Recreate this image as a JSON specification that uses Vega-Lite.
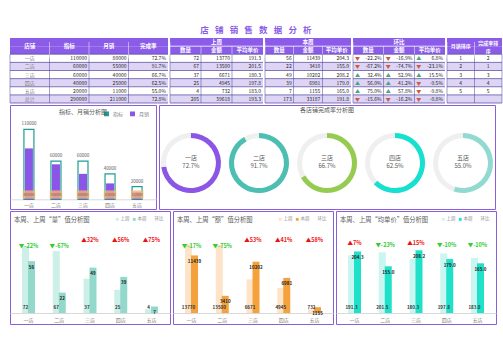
{
"$schema":"https://vega.github.io/schema/vega-lite/v6.json",
"background":"#ffffff",
"padding":{"left":9,"top":25,"right":0,"bottom":0},
"title":{"text":"店\u2002\u00a0铺\u2002\u00a0销\u2002\u00a0售\u2002\u00a0数\u2002\u00a0据\u2002\u00a0分\u2002\u00a0析","fontSize":8.5,"fontWeight":"bold","color":"#8b5ce8","anchor":"middle","frame":"bounds","offset":4},
"config":{
 "font":"Noto Sans CJK SC",
 "view":{"stroke":"#8a60d6","strokeWidth":1},
 "title":{"font":"Noto Sans CJK SC","fontWeight":"normal","color":"#595959","frame":"group","baseline":"bottom"},
 "axis":{"labelFont":"Noto Sans CJK SC","grid":false,"tickSize":0,"ticks":false},
 "legend":{"labelFont":"Noto Sans CJK SC"},
 "text":{"font":"Noto Sans CJK SC"}
},
"datasets":{
 "rows":[{"row":"h1"},{"row":"h2"},{"row":"r1"},{"row":"r2"},{"row":"r3"},{"row":"r4"},{"row":"r5"},{"row":"r6"}],
 "tbl":[
  {"row":"r1","店铺":"一店","指标":"110000","月销":"80000","完成率":"72.7%","上周数量":"72","上周金额":"13770","上周平均单价":"191.3","本周数量":"56","本周金额":"11439","本周平均单价":"204.3","环比数量":"-22.2%","环比金额":"-16.9%","环比平均单价":"6.8%","月销排序":"1","完成率排序":"2"},
  {"row":"r2","店铺":"二店","指标":"60000","月销":"55000","完成率":"91.7%","上周数量":"67","上周金额":"13500","上周平均单价":"201.5","本周数量":"22","本周金额":"3410","本周平均单价":"155.0","环比数量":"-67.2%","环比金额":"-74.7%","环比平均单价":"-23.1%","月销排序":"2","完成率排序":"1"},
  {"row":"r3","店铺":"三店","指标":"60000","月销":"40000","完成率":"66.7%","上周数量":"37","上周金额":"6671","上周平均单价":"180.3","本周数量":"49","本周金额":"10202","本周平均单价":"208.2","环比数量":"32.4%","环比金额":"52.9%","环比平均单价":"15.5%","月销排序":"3","完成率排序":"3"},
  {"row":"r4","店铺":"四店","指标":"40000","月销":"25000","完成率":"62.5%","上周数量":"25","上周金额":"4945","上周平均单价":"197.8","本周数量":"39","本周金额":"6981","本周平均单价":"179.0","环比数量":"56.0%","环比金额":"41.2%","环比平均单价":"-9.5%","月销排序":"4","完成率排序":"4"},
  {"row":"r5","店铺":"五店","指标":"20000","月销":"11000","完成率":"55.0%","上周数量":"4","上周金额":"732","上周平均单价":"183.0","本周数量":"7","本周金额":"1155","本周平均单价":"165.0","环比数量":"75.0%","环比金额":"57.8%","环比平均单价":"-9.8%","月销排序":"5","完成率排序":"5"},
  {"row":"r6","店铺":"总计","指标":"290000","月销":"211000","完成率":"72.8%","上周数量":"205","上周金额":"39618","上周平均单价":"193.3","本周数量":"173","本周金额":"33187","本周平均单价":"191.8","环比数量":"-15.6%","环比金额":"-16.2%","环比平均单价":"-0.8%","月销排序":"","完成率排序":""}
 ],
 "stores":[
  {"store":"一店","target":110000,"sales":80000,"rate":0.727,"rateText":"72.7%"},
  {"store":"二店","target":60000,"sales":55000,"rate":0.917,"rateText":"91.7%"},
  {"store":"三店","target":60000,"sales":40000,"rate":0.667,"rateText":"66.7%"},
  {"store":"四店","target":40000,"sales":25000,"rate":0.625,"rateText":"62.5%"},
  {"store":"五店","target":20000,"sales":11000,"rate":0.55,"rateText":"55.0%"}
 ],
 "weekly":[
  {"store":"一店","week":"上周","qty":72,"amt":13770,"avg":191.3},
  {"store":"二店","week":"上周","qty":67,"amt":13500,"avg":201.5},
  {"store":"三店","week":"上周","qty":37,"amt":6671,"avg":180.3},
  {"store":"四店","week":"上周","qty":25,"amt":4945,"avg":197.8},
  {"store":"五店","week":"上周","qty":4,"amt":732,"avg":183.0},
  {"store":"一店","week":"本周","qty":56,"amt":11439,"avg":204.3},
  {"store":"二店","week":"本周","qty":22,"amt":3410,"avg":155.0},
  {"store":"三店","week":"本周","qty":49,"amt":10202,"avg":208.2},
  {"store":"四店","week":"本周","qty":39,"amt":6981,"avg":179.0},
  {"store":"五店","week":"本周","qty":7,"amt":1155,"avg":165.0}
 ],
 "chg":[
  {"store":"一店","metric":"qty","label":"▼-22%","dir":"down"},
  {"store":"二店","metric":"qty","label":"▼-67%","dir":"down"},
  {"store":"三店","metric":"qty","label":"▲32%","dir":"up"},
  {"store":"四店","metric":"qty","label":"▲56%","dir":"up"},
  {"store":"五店","metric":"qty","label":"▲75%","dir":"up"},
  {"store":"一店","metric":"amt","label":"▼-17%","dir":"down"},
  {"store":"二店","metric":"amt","label":"▼-75%","dir":"down"},
  {"store":"三店","metric":"amt","label":"▲53%","dir":"up"},
  {"store":"四店","metric":"amt","label":"▲41%","dir":"up"},
  {"store":"五店","metric":"amt","label":"▲58%","dir":"up"},
  {"store":"一店","metric":"avg","label":"▲7%","dir":"up"},
  {"store":"二店","metric":"avg","label":"▼-23%","dir":"down"},
  {"store":"三店","metric":"avg","label":"▲15%","dir":"up"},
  {"store":"四店","metric":"avg","label":"▼-10%","dir":"down"},
  {"store":"五店","metric":"avg","label":"▼-10%","dir":"down"}
 ]
},
"spacing":0,
"resolve":{"scale":{"color":"independent"}},
"vconcat":[
 {"spacing":0,"hconcat":[
  {"width":158,"height":65,"view":{"stroke":null},
   "layer":[
    {"data":{"name":"rows"},"mark":{"type":"rect"},"encoding":{"y":{"field":"row","type":"nominal","scale":{"type":"band","domain":["h1","h2","r1","r2","r3","r4","r5","r6"],"paddingInner":0,"paddingOuter":0},"axis":null},"color":{"field":"row","type":"nominal","scale":{"domain":["h1","h2","r1","r2","r3","r4","r5","r6"],"range":["#8b5ce8","#8b5ce8","#ffffff","#ddd4f6","#ffffff","#ddd4f6","#ffffff","#ddd4f6"]},"legend":null}}},
    {"data":{"name":"tbl"},"transform":[{"fold":["指标","月销","完成率"],"as":["key","value"]}],"mark":{"type":"text","align":"right","dx":-2,"fontSize":5,"color":"#262626"},"encoding":{"x":{"field":"key","type":"nominal","bandPosition":1,"scale":{"type":"band","domain":["店铺","指标","月销","完成率"],"paddingInner":0,"paddingOuter":0},"axis":null},"y":{"field":"row","type":"nominal","axis":null},"text":{"field":"value","type":"nominal"}}},
    {"data":{"name":"tbl"},"transform":[{"fold":["店铺"],"as":["key","value"]}],"mark":{"type":"text","fontSize":5,"color":"#7f7f7f"},"encoding":{"x":{"field":"key","type":"nominal","bandPosition":0.5,"axis":null},"y":{"field":"row","type":"nominal","axis":null},"text":{"field":"value","type":"nominal"}}},
    {"data":{"name":"rows"},"transform":[{"filter":{"field":"row","oneOf":["r1","r2","r3","r4","r5","r6"]}}],"mark":{"type":"rule","color":"#4a3f94","strokeWidth":0.7},"encoding":{"y":{"field":"row","type":"nominal","bandPosition":0,"axis":null}}},
    {"data":{"name":"rows"},"transform":[{"filter":{"field":"row","equal":"r6"}}],"mark":{"type":"rule","color":"#4a3f94","strokeWidth":0.7},"encoding":{"y":{"field":"row","type":"nominal","bandPosition":1,"axis":null}}},
    {"data":{"name":"tbl"},"transform":[{"fold":["店铺","指标","月销","完成率"],"as":["key","value"]}],"mark":{"type":"tick","orient":"vertical","size":8.125,"thickness":0.7,"color":"#4a3f94"},"encoding":{"x":{"field":"key","type":"nominal","bandPosition":0,"axis":null},"y":{"field":"row","type":"nominal","axis":null}}},
    {"data":{"values":[{"k":"店铺","row":"h2"},{"k":"指标","row":"h2"},{"k":"月销","row":"h2"},{"k":"完成率","row":"h2"}]},"mark":{"type":"text","color":"#ffffff","fontWeight":"bold","fontSize":5.5},"encoding":{"x":{"field":"k","type":"nominal","bandPosition":0.5,"axis":null},"y":{"field":"row","type":"nominal","bandPosition":0,"axis":null},"text":{"field":"k","type":"nominal"}}},
    {"data":{"values":[{"k":"指标","row":"h2"},{"k":"月销","row":"h2"},{"k":"完成率","row":"h2"}]},"mark":{"type":"tick","orient":"vertical","size":16.25,"thickness":0.7,"color":"#ffffff"},"encoding":{"x":{"field":"k","type":"nominal","bandPosition":0,"axis":null},"y":{"field":"row","type":"nominal","bandPosition":0,"axis":null}}}
   ]},
  {"width":93,"height":65,"view":{"stroke":null},
   "layer":[
    {"data":{"name":"rows"},"mark":{"type":"rect"},"encoding":{"y":{"field":"row","type":"nominal","scale":{"type":"band","domain":["h1","h2","r1","r2","r3","r4","r5","r6"],"paddingInner":0,"paddingOuter":0},"axis":null},"color":{"field":"row","type":"nominal","scale":{"domain":["h1","h2","r1","r2","r3","r4","r5","r6"],"range":["#8b5ce8","#8b5ce8","#ffffff","#ddd4f6","#ffffff","#ddd4f6","#ffffff","#ddd4f6"]},"legend":null}}},
    {"data":{"name":"tbl"},"transform":[{"fold":["上周数量","上周金额","上周平均单价"],"as":["key","value"]}],"mark":{"type":"text","align":"right","dx":-2,"fontSize":5,"color":"#262626"},"encoding":{"x":{"field":"key","type":"nominal","bandPosition":1,"scale":{"type":"band","domain":["上周数量","上周金额","上周平均单价"],"paddingInner":0,"paddingOuter":0},"axis":null},"y":{"field":"row","type":"nominal","axis":null},"text":{"field":"value","type":"nominal"}}},
    {"data":{"name":"rows"},"transform":[{"filter":{"field":"row","oneOf":["r1","r2","r3","r4","r5","r6"]}}],"mark":{"type":"rule","color":"#4a3f94","strokeWidth":0.7},"encoding":{"y":{"field":"row","type":"nominal","bandPosition":0,"axis":null}}},
    {"data":{"name":"rows"},"transform":[{"filter":{"field":"row","equal":"r6"}}],"mark":{"type":"rule","color":"#4a3f94","strokeWidth":0.7},"encoding":{"y":{"field":"row","type":"nominal","bandPosition":1,"axis":null}}},
    {"data":{"name":"tbl"},"transform":[{"fold":["上周数量","上周金额","上周平均单价"],"as":["key","value"]}],"mark":{"type":"tick","orient":"vertical","size":8.125,"thickness":0.7,"color":"#4a3f94"},"encoding":{"x":{"field":"key","type":"nominal","bandPosition":0,"axis":null},"y":{"field":"row","type":"nominal","axis":null}}},
    {"data":{"values":[{"k":"上周数量","t":"数量","row":"h2"},{"k":"上周金额","t":"金额","row":"h2"},{"k":"上周平均单价","t":"平均单价","row":"h2"}]},"mark":{"type":"text","color":"#ffffff","fontWeight":"bold","fontSize":5.5},"encoding":{"x":{"field":"k","type":"nominal","bandPosition":0.5,"axis":null},"y":{"field":"row","type":"nominal","axis":null},"text":{"field":"t","type":"nominal"}}},
    {"data":{"values":[{"t":"上周","row":"h1"}]},"mark":{"type":"text","color":"#ffffff","fontWeight":"bold","fontSize":5.5},"encoding":{"y":{"field":"row","type":"nominal","axis":null},"text":{"field":"t","type":"nominal"}}},
    {"data":{"values":[{"row":"h2"}]},"mark":{"type":"rule","color":"#ffffff","strokeWidth":0.7},"encoding":{"y":{"field":"row","type":"nominal","bandPosition":0,"axis":null}}},
    {"data":{"values":[{"k":"上周数量","row":"h2"}]},"mark":{"type":"tick","orient":"vertical","size":16.25,"thickness":0.7,"color":"#ffffff"},"encoding":{"x":{"field":"k","type":"nominal","bandPosition":0,"axis":null},"y":{"field":"row","type":"nominal","bandPosition":0,"axis":null}}},
    {"data":{"values":[{"k":"上周金额","row":"h2"},{"k":"上周平均单价","row":"h2"}]},"mark":{"type":"tick","orient":"vertical","size":8.125,"thickness":0.7,"color":"#ffffff"},"encoding":{"x":{"field":"k","type":"nominal","bandPosition":0,"axis":null},"y":{"field":"row","type":"nominal","axis":null}}}
   ]},
  {"width":86,"height":65,"view":{"stroke":null},
   "layer":[
    {"data":{"name":"rows"},"mark":{"type":"rect"},"encoding":{"y":{"field":"row","type":"nominal","scale":{"type":"band","domain":["h1","h2","r1","r2","r3","r4","r5","r6"],"paddingInner":0,"paddingOuter":0},"axis":null},"color":{"field":"row","type":"nominal","scale":{"domain":["h1","h2","r1","r2","r3","r4","r5","r6"],"range":["#8b5ce8","#8b5ce8","#ffffff","#ddd4f6","#ffffff","#ddd4f6","#ffffff","#ddd4f6"]},"legend":null}}},
    {"data":{"name":"tbl"},"transform":[{"fold":["本周数量","本周金额","本周平均单价"],"as":["key","value"]}],"mark":{"type":"text","align":"right","dx":-2,"fontSize":5,"color":"#262626"},"encoding":{"x":{"field":"key","type":"nominal","bandPosition":1,"scale":{"type":"band","domain":["本周数量","本周金额","本周平均单价"],"paddingInner":0,"paddingOuter":0},"axis":null},"y":{"field":"row","type":"nominal","axis":null},"text":{"field":"value","type":"nominal"}}},
    {"data":{"name":"rows"},"transform":[{"filter":{"field":"row","oneOf":["r1","r2","r3","r4","r5","r6"]}}],"mark":{"type":"rule","color":"#4a3f94","strokeWidth":0.7},"encoding":{"y":{"field":"row","type":"nominal","bandPosition":0,"axis":null}}},
    {"data":{"name":"rows"},"transform":[{"filter":{"field":"row","equal":"r6"}}],"mark":{"type":"rule","color":"#4a3f94","strokeWidth":0.7},"encoding":{"y":{"field":"row","type":"nominal","bandPosition":1,"axis":null}}},
    {"data":{"name":"tbl"},"transform":[{"fold":["本周数量","本周金额","本周平均单价"],"as":["key","value"]}],"mark":{"type":"tick","orient":"vertical","size":8.125,"thickness":0.7,"color":"#4a3f94"},"encoding":{"x":{"field":"key","type":"nominal","bandPosition":0,"axis":null},"y":{"field":"row","type":"nominal","axis":null}}},
    {"data":{"values":[{"k":"本周数量","t":"数量","row":"h2"},{"k":"本周金额","t":"金额","row":"h2"},{"k":"本周平均单价","t":"平均单价","row":"h2"}]},"mark":{"type":"text","color":"#ffffff","fontWeight":"bold","fontSize":5.5},"encoding":{"x":{"field":"k","type":"nominal","bandPosition":0.5,"axis":null},"y":{"field":"row","type":"nominal","axis":null},"text":{"field":"t","type":"nominal"}}},
    {"data":{"values":[{"t":"本周","row":"h1"}]},"mark":{"type":"text","color":"#ffffff","fontWeight":"bold","fontSize":5.5},"encoding":{"y":{"field":"row","type":"nominal","axis":null},"text":{"field":"t","type":"nominal"}}},
    {"data":{"values":[{"row":"h2"}]},"mark":{"type":"rule","color":"#ffffff","strokeWidth":0.7},"encoding":{"y":{"field":"row","type":"nominal","bandPosition":0,"axis":null}}},
    {"data":{"values":[{"k":"本周数量","row":"h2"}]},"mark":{"type":"tick","orient":"vertical","size":16.25,"thickness":0.7,"color":"#ffffff"},"encoding":{"x":{"field":"k","type":"nominal","bandPosition":0,"axis":null},"y":{"field":"row","type":"nominal","bandPosition":0,"axis":null}}},
    {"data":{"values":[{"k":"本周金额","row":"h2"},{"k":"本周平均单价","row":"h2"}]},"mark":{"type":"tick","orient":"vertical","size":8.125,"thickness":0.7,"color":"#ffffff"},"encoding":{"x":{"field":"k","type":"nominal","bandPosition":0,"axis":null},"y":{"field":"row","type":"nominal","axis":null}}}
   ]},
  {"width":92,"height":65,"view":{"stroke":null},
   "layer":[
    {"data":{"name":"rows"},"mark":{"type":"rect"},"encoding":{"y":{"field":"row","type":"nominal","scale":{"type":"band","domain":["h1","h2","r1","r2","r3","r4","r5","r6"],"paddingInner":0,"paddingOuter":0},"axis":null},"color":{"field":"row","type":"nominal","scale":{"domain":["h1","h2","r1","r2","r3","r4","r5","r6"],"range":["#8b5ce8","#8b5ce8","#ffffff","#ddd4f6","#ffffff","#ddd4f6","#ffffff","#ddd4f6"]},"legend":null}}},
    {"data":{"name":"tbl"},"transform":[{"fold":["环比数量","环比金额","环比平均单价"],"as":["key","value"]}],"mark":{"type":"text","align":"right","dx":-2,"fontSize":5,"color":"#262626"},"encoding":{"x":{"field":"key","type":"nominal","bandPosition":1,"scale":{"type":"band","domain":["环比数量","环比金额","环比平均单价"],"paddingInner":0,"paddingOuter":0},"axis":null},"y":{"field":"row","type":"nominal","axis":null},"text":{"field":"value","type":"nominal"}}},
    {"data":{"name":"tbl"},"transform":[{"fold":["环比数量","环比金额","环比平均单价"],"as":["key","value"]},{"filter":"indexof(datum.value,'-')===0"}],"mark":{"type":"text","text":"▼","align":"left","dx":2,"fontSize":5,"color":"#d0583c"},"encoding":{"x":{"field":"key","type":"nominal","bandPosition":0,"axis":null},"y":{"field":"row","type":"nominal","axis":null}}},
    {"data":{"name":"tbl"},"transform":[{"fold":["环比数量","环比金额","环比平均单价"],"as":["key","value"]},{"filter":"indexof(datum.value,'-')!==0"}],"mark":{"type":"text","text":"▲","align":"left","dx":2,"fontSize":5,"color":"#4fa383"},"encoding":{"x":{"field":"key","type":"nominal","bandPosition":0,"axis":null},"y":{"field":"row","type":"nominal","axis":null}}},
    {"data":{"name":"rows"},"transform":[{"filter":{"field":"row","oneOf":["r1","r2","r3","r4","r5","r6"]}}],"mark":{"type":"rule","color":"#4a3f94","strokeWidth":0.7},"encoding":{"y":{"field":"row","type":"nominal","bandPosition":0,"axis":null}}},
    {"data":{"name":"rows"},"transform":[{"filter":{"field":"row","equal":"r6"}}],"mark":{"type":"rule","color":"#4a3f94","strokeWidth":0.7},"encoding":{"y":{"field":"row","type":"nominal","bandPosition":1,"axis":null}}},
    {"data":{"name":"tbl"},"transform":[{"fold":["环比数量","环比金额","环比平均单价"],"as":["key","value"]}],"mark":{"type":"tick","orient":"vertical","size":8.125,"thickness":0.7,"color":"#4a3f94"},"encoding":{"x":{"field":"key","type":"nominal","bandPosition":0,"axis":null},"y":{"field":"row","type":"nominal","axis":null}}},
    {"data":{"values":[{"k":"环比数量","t":"数量","row":"h2"},{"k":"环比金额","t":"金额","row":"h2"},{"k":"环比平均单价","t":"平均单价","row":"h2"}]},"mark":{"type":"text","color":"#ffffff","fontWeight":"bold","fontSize":5.5},"encoding":{"x":{"field":"k","type":"nominal","bandPosition":0.5,"axis":null},"y":{"field":"row","type":"nominal","axis":null},"text":{"field":"t","type":"nominal"}}},
    {"data":{"values":[{"t":"环比","row":"h1"}]},"mark":{"type":"text","color":"#ffffff","fontWeight":"bold","fontSize":5.5},"encoding":{"y":{"field":"row","type":"nominal","axis":null},"text":{"field":"t","type":"nominal"}}},
    {"data":{"values":[{"row":"h2"}]},"mark":{"type":"rule","color":"#ffffff","strokeWidth":0.7},"encoding":{"y":{"field":"row","type":"nominal","bandPosition":0,"axis":null}}},
    {"data":{"values":[{"k":"环比数量","row":"h2"}]},"mark":{"type":"tick","orient":"vertical","size":16.25,"thickness":0.7,"color":"#ffffff"},"encoding":{"x":{"field":"k","type":"nominal","bandPosition":0,"axis":null},"y":{"field":"row","type":"nominal","bandPosition":0,"axis":null}}},
    {"data":{"values":[{"k":"环比金额","row":"h2"},{"k":"环比平均单价","row":"h2"}]},"mark":{"type":"tick","orient":"vertical","size":8.125,"thickness":0.7,"color":"#ffffff"},"encoding":{"x":{"field":"k","type":"nominal","bandPosition":0,"axis":null},"y":{"field":"row","type":"nominal","axis":null}}}
   ]},
  {"width":55,"height":65,"view":{"stroke":null},
   "layer":[
    {"data":{"name":"rows"},"mark":{"type":"rect"},"encoding":{"y":{"field":"row","type":"nominal","scale":{"type":"band","domain":["h1","h2","r1","r2","r3","r4","r5","r6"],"paddingInner":0,"paddingOuter":0},"axis":null},"color":{"field":"row","type":"nominal","scale":{"domain":["h1","h2","r1","r2","r3","r4","r5","r6"],"range":["#8b5ce8","#8b5ce8","#ffffff","#ddd4f6","#ffffff","#ddd4f6","#ffffff","#ddd4f6"]},"legend":null}}},
    {"data":{"name":"tbl"},"transform":[{"fold":["月销排序","完成率排序"],"as":["key","value"]}],"mark":{"type":"text","fontSize":5,"color":"#262626"},"encoding":{"x":{"field":"key","type":"nominal","bandPosition":0.5,"scale":{"type":"band","domain":["月销排序","完成率排序"],"paddingInner":0,"paddingOuter":0},"axis":null},"y":{"field":"row","type":"nominal","axis":null},"text":{"field":"value","type":"nominal"}}},
    {"data":{"name":"rows"},"transform":[{"filter":{"field":"row","oneOf":["r1","r2","r3","r4","r5","r6"]}}],"mark":{"type":"rule","color":"#4a3f94","strokeWidth":0.7},"encoding":{"y":{"field":"row","type":"nominal","bandPosition":0,"axis":null}}},
    {"data":{"name":"rows"},"transform":[{"filter":{"field":"row","equal":"r6"}}],"mark":{"type":"rule","color":"#4a3f94","strokeWidth":0.7},"encoding":{"y":{"field":"row","type":"nominal","bandPosition":1,"axis":null}}},
    {"data":{"name":"tbl"},"transform":[{"fold":["月销排序","完成率排序"],"as":["key","value"]}],"mark":{"type":"tick","orient":"vertical","size":8.125,"thickness":0.7,"color":"#4a3f94"},"encoding":{"x":{"field":"key","type":"nominal","bandPosition":0,"axis":null},"y":{"field":"row","type":"nominal","axis":null}}},
    {"data":{"name":"tbl"},"transform":[{"fold":["完成率排序"],"as":["key","value"]}],"mark":{"type":"tick","orient":"vertical","size":8.125,"thickness":0.7,"color":"#4a3f94"},"encoding":{"x":{"field":"key","type":"nominal","bandPosition":1,"axis":null},"y":{"field":"row","type":"nominal","axis":null}}},
    {"data":{"values":[{"k":"月销排序","t":"月销排序","row":"h2"}]},"mark":{"type":"text","color":"#ffffff","fontWeight":"bold","fontSize":5},"encoding":{"x":{"field":"k","type":"nominal","bandPosition":0.5,"axis":null},"y":{"field":"row","type":"nominal","bandPosition":0,"axis":null},"text":{"field":"t","type":"nominal"}}},
    {"data":{"values":[{"k":"完成率排序","t":"完成率排","row":"h1"}]},"mark":{"type":"text","color":"#ffffff","fontWeight":"bold","fontSize":5,"dy":0.5},"encoding":{"x":{"field":"k","type":"nominal","bandPosition":0.5,"axis":null},"y":{"field":"row","type":"nominal","axis":null},"text":{"field":"t","type":"nominal"}}},
    {"data":{"values":[{"k":"完成率排序","t":"序","row":"h2"}]},"mark":{"type":"text","color":"#ffffff","fontWeight":"bold","fontSize":5,"dy":0.5},"encoding":{"x":{"field":"k","type":"nominal","bandPosition":0.5,"axis":null},"y":{"field":"row","type":"nominal","axis":null},"text":{"field":"t","type":"nominal"}}},
    {"data":{"values":[{"k":"月销排序","row":"h2"},{"k":"完成率排序","row":"h2"}]},"mark":{"type":"tick","orient":"vertical","size":16.25,"thickness":0.7,"color":"#ffffff"},"encoding":{"x":{"field":"k","type":"nominal","bandPosition":0,"axis":null},"y":{"field":"row","type":"nominal","bandPosition":0,"axis":null}}}
   ]}
 ]},
 {"spacing":1,"resolve":{"scale":{"color":"independent"}},"hconcat":[
  {"width":146,"height":104,
   "title":{"text":"指标、月销分析图","fontSize":6,"offset":-10},
   "data":{"name":"stores"},
   "layer":[
    {"mark":{"type":"bar","filled":false,"width":10,"strokeWidth":1.2},
     "encoding":{"x":{"field":"store","type":"nominal","sort":null,"scale":{"type":"band","domain":["一店","二店","三店","四店","五店"],"paddingInner":0,"paddingOuter":0.2},"axis":{"title":null,"labelAngle":0,"labelFontSize":5,"labelColor":"#7f7f7f","domainColor":"#d9d9d9","offset":-9.7,"labelPadding":3}},
      "y":{"field":"target","type":"quantitative","scale":{"domain":[-15200,148200],"nice":false,"zero":false},"axis":null},
      "color":{"datum":"指标","type":"nominal","scale":{"domain":["指标","月销"],"range":["#1f9e94","#8b55e6"]},"legend":{"orient":"top-right","direction":"horizontal","title":null,"offset":6,"padding":0,"symbolType":"square","symbolSize":12,"labelFontSize":5,"labelColor":"#7f7f7f","columnPadding":3}}}},
    {"mark":{"type":"bar","width":8},
     "encoding":{"x":{"field":"store","type":"nominal","sort":null},
      "y":{"field":"sales","type":"quantitative","axis":null},
      "color":{"datum":"月销","type":"nominal"}}},
    {"mark":{"type":"bar","width":12.5,"color":"#f2b47c","opacity":0.8},
     "encoding":{"x":{"field":"store","type":"nominal","sort":null},"y":{"datum":1000,"type":"quantitative"},"y2":{"datum":14000}}},
    {"mark":{"type":"text","fontSize":4,"color":"#8a5a3a"},
     "encoding":{"x":{"field":"store","type":"nominal","sort":null},"y":{"datum":7500,"type":"quantitative"},"text":{"field":"sales","type":"quantitative","format":"d"}}},
    {"mark":{"type":"text","fontSize":4.5,"color":"#595959","baseline":"bottom","dy":-3},
     "encoding":{"x":{"field":"store","type":"nominal","sort":null},"y":{"field":"target","type":"quantitative"},"text":{"field":"target","type":"quantitative","format":"d"}}}
   ]},
  {"width":336,"height":104,
   "title":{"text":"各店铺完成率分析图","fontSize":6,"offset":-8},
   "data":{"name":"stores"},
   "layer":[
    {"mark":{"type":"arc","innerRadius":25,"outerRadius":30,"color":"#efefef"},
     "encoding":{"x":{"field":"store","type":"nominal","scale":{"type":"point","domain":["一店","二店","三店","四店","五店"],"padding":0.47},"axis":null},
      "y":{"datum":0.442,"type":"quantitative","scale":{"domain":[0,1],"nice":false,"zero":false},"axis":null},
      "theta":{"datum":1,"type":"quantitative","scale":{"domain":[0,1]}}}},
    {"mark":{"type":"arc","innerRadius":25,"outerRadius":30},
     "encoding":{"x":{"field":"store","type":"nominal"},
      "y":{"datum":0.442,"type":"quantitative"},
      "theta":{"field":"rate","type":"quantitative","stack":null},
      "color":{"field":"store","type":"nominal","scale":{"domain":["一店","二店","三店","四店","五店"],"range":["#8b55e6","#4cbfb2","#95cc50","#16e0cf","#90dad1"]},"legend":null}}},
    {"mark":{"type":"text","fontSize":6,"color":"#595959","dy":-5.5},
     "encoding":{"x":{"field":"store","type":"nominal"},"y":{"datum":0.442,"type":"quantitative"},"text":{"field":"store","type":"nominal"}}},
    {"mark":{"type":"text","fontSize":6,"color":"#595959","dy":3},
     "encoding":{"x":{"field":"store","type":"nominal"},"y":{"datum":0.442,"type":"quantitative"},"text":{"field":"rateText","type":"nominal"}}}
   ]}
 ]},
 {"spacing":1,"resolve":{"scale":{"color":"independent"}},"hconcat":[
  {"width":160,"height":113,
   "title":{"text":"本周、上周“量”值分析图","anchor":"start","dx":4,"fontSize":6.3,"offset":-12.3},
   "layer":[
    {"data":{"name":"weekly"},"mark":{"type":"bar","width":7},
     "encoding":{"x":{"field":"store","type":"nominal","sort":null,"scale":{"type":"band","domain":["一店","二店","三店","四店","五店"],"paddingInner":0.61,"paddingOuter":0.407},"axis":{"title":null,"labelAngle":0,"labelFontSize":5,"labelColor":"#7f7f7f","domainColor":"#d9d9d9","offset":-11,"labelPadding":4}},
      "xOffset":{"field":"week","type":"nominal","scale":{"domain":["上周","本周"],"paddingInner":0,"paddingOuter":0}},
      "y":{"field":"qty","type":"quantitative","scale":{"domain":[-11.9,110.1],"nice":false,"zero":false},"axis":null},
      "color":{"field":"week","type":"nominal","scale":{"domain":["上周","本周","环比"],"range":["#ccefe8","#92d9cb","#ffffff"]},"legend":{"orient":"top-right","direction":"horizontal","title":null,"offset":6,"padding":0,"symbolType":"square","symbolSize":8,"labelFontSize":4.5,"labelColor":"#8c8c8c","columnPadding":2,"labelOffset":1,"symbolStrokeWidth":0}}}},
    {"data":{"name":"weekly"},"transform":[{"filter":{"field":"week","equal":"上周"}}],"mark":{"type":"text","baseline":"bottom","dy":-3,"fontSize":4.5,"fontWeight":"bold","color":"#333333"},
     "encoding":{"x":{"field":"store","type":"nominal","sort":null},"xOffset":{"field":"week","type":"nominal"},"y":{"datum":0,"type":"quantitative"},"text":{"field":"qty","type":"quantitative","format":"d"}}},
    {"data":{"name":"weekly"},"transform":[{"filter":{"field":"week","equal":"本周"}}],"mark":{"type":"text","baseline":"top","dy":3.5,"fontSize":4.5,"fontWeight":"bold","color":"#222222"},
     "encoding":{"x":{"field":"store","type":"nominal","sort":null},"xOffset":{"field":"week","type":"nominal"},"y":{"field":"qty","type":"quantitative"},"text":{"field":"qty","type":"quantitative","format":"d"}}},
    {"data":{"name":"chg"},"transform":[{"filter":"datum.metric==='qty' && datum.dir==='up'"}],"mark":{"type":"text","fontSize":5.5,"fontWeight":"bold","color":"#ee1111"},
     "encoding":{"x":{"field":"store","type":"nominal","sort":null},"y":{"datum":78.8,"type":"quantitative"},"text":{"field":"label","type":"nominal"}}},
    {"data":{"name":"chg"},"transform":[{"filter":"datum.metric==='qty' && datum.dir==='down'"}],"mark":{"type":"text","fontSize":5.5,"fontWeight":"bold","color":"#33cc33"},
     "encoding":{"x":{"field":"store","type":"nominal","sort":null},"y":{"datum":72.3,"type":"quantitative"},"text":{"field":"label","type":"nominal"}}}
   ]},
  {"width":160,"height":113,
   "title":{"text":"本周、上周“额”值分析图","anchor":"start","dx":4,"fontSize":6.3,"offset":-12.3},
   "layer":[
    {"data":{"name":"weekly"},"mark":{"type":"bar","width":7},
     "encoding":{"x":{"field":"store","type":"nominal","sort":null,"scale":{"type":"band","domain":["一店","二店","三店","四店","五店"],"paddingInner":0.61,"paddingOuter":0.407},"axis":{"title":null,"labelAngle":0,"labelFontSize":5,"labelColor":"#7f7f7f","domainColor":"#d9d9d9","offset":-11,"labelPadding":4}},
      "xOffset":{"field":"week","type":"nominal","scale":{"domain":["上周","本周"],"paddingInner":0,"paddingOuter":0}},
      "y":{"field":"amt","type":"quantitative","scale":{"domain":[-2186,20267],"nice":false,"zero":false},"axis":null},
      "color":{"field":"week","type":"nominal","scale":{"domain":["上周","本周","环比"],"range":["#fde4c9","#f5a23c","#ffffff"]},"legend":{"orient":"top-right","direction":"horizontal","title":null,"offset":6,"padding":0,"symbolType":"square","symbolSize":8,"labelFontSize":4.5,"labelColor":"#8c8c8c","columnPadding":2,"labelOffset":1,"symbolStrokeWidth":0}}}},
    {"data":{"name":"weekly"},"transform":[{"filter":{"field":"week","equal":"上周"}}],"mark":{"type":"text","baseline":"bottom","dy":-3,"fontSize":4.5,"fontWeight":"bold","color":"#333333"},
     "encoding":{"x":{"field":"store","type":"nominal","sort":null},"xOffset":{"field":"week","type":"nominal"},"y":{"datum":0,"type":"quantitative"},"text":{"field":"amt","type":"quantitative","format":"d"}}},
    {"data":{"name":"weekly"},"transform":[{"filter":{"field":"week","equal":"本周"}}],"mark":{"type":"text","baseline":"top","dy":3.5,"fontSize":4.5,"fontWeight":"bold","color":"#222222"},
     "encoding":{"x":{"field":"store","type":"nominal","sort":null},"xOffset":{"field":"week","type":"nominal"},"y":{"field":"amt","type":"quantitative"},"text":{"field":"amt","type":"quantitative","format":"d"}}},
    {"data":{"name":"chg"},"transform":[{"filter":"datum.metric==='amt' && datum.dir==='up'"}],"mark":{"type":"text","fontSize":5.5,"fontWeight":"bold","color":"#ee1111"},
     "encoding":{"x":{"field":"store","type":"nominal","sort":null},"y":{"datum":14505,"type":"quantitative"},"text":{"field":"label","type":"nominal"}}},
    {"data":{"name":"chg"},"transform":[{"filter":"datum.metric==='amt' && datum.dir==='down'"}],"mark":{"type":"text","fontSize":5.5,"fontWeight":"bold","color":"#33cc33"},
     "encoding":{"x":{"field":"store","type":"nominal","sort":null},"y":{"datum":13313,"type":"quantitative"},"text":{"field":"label","type":"nominal"}}}
   ]},
  {"width":160,"height":113,
   "title":{"text":"本周、上周“均单价”值分析图","anchor":"start","dx":4,"fontSize":6.3,"offset":-12.3},
   "layer":[
    {"data":{"name":"weekly"},"mark":{"type":"bar","width":7},
     "encoding":{"x":{"field":"store","type":"nominal","sort":null,"scale":{"type":"band","domain":["一店","二店","三店","四店","五店"],"paddingInner":0.61,"paddingOuter":0.407},"axis":{"title":null,"labelAngle":0,"labelFontSize":5,"labelColor":"#7f7f7f","domainColor":"#d9d9d9","offset":-11,"labelPadding":4}},
      "xOffset":{"field":"week","type":"nominal","scale":{"domain":["上周","本周"],"paddingInner":0,"paddingOuter":0}},
      "y":{"field":"avg","type":"quantitative","scale":{"domain":[-36.5,338.7],"nice":false,"zero":false},"axis":null},
      "color":{"field":"week","type":"nominal","scale":{"domain":["上周","本周","环比"],"range":["#c9f6f0","#1fe0c9","#ffffff"]},"legend":{"orient":"top-right","direction":"horizontal","title":null,"offset":6,"padding":0,"symbolType":"square","symbolSize":8,"labelFontSize":4.5,"labelColor":"#8c8c8c","columnPadding":2,"labelOffset":1,"symbolStrokeWidth":0}}}},
    {"data":{"name":"weekly"},"transform":[{"filter":{"field":"week","equal":"上周"}}],"mark":{"type":"text","baseline":"bottom","dy":-3,"fontSize":4.5,"fontWeight":"bold","color":"#333333"},
     "encoding":{"x":{"field":"store","type":"nominal","sort":null},"xOffset":{"field":"week","type":"nominal"},"y":{"datum":0,"type":"quantitative"},"text":{"field":"avg","type":"quantitative","format":".1f"}}},
    {"data":{"name":"weekly"},"transform":[{"filter":{"field":"week","equal":"本周"}}],"mark":{"type":"text","baseline":"top","dy":3.5,"fontSize":4.5,"fontWeight":"bold","color":"#222222"},
     "encoding":{"x":{"field":"store","type":"nominal","sort":null},"xOffset":{"field":"week","type":"nominal"},"y":{"field":"avg","type":"quantitative"},"text":{"field":"avg","type":"quantitative","format":".1f"}}},
    {"data":{"name":"chg"},"transform":[{"filter":"datum.metric==='avg' && datum.dir==='up'"}],"mark":{"type":"text","fontSize":5.5,"fontWeight":"bold","color":"#ee1111"},
     "encoding":{"x":{"field":"store","type":"nominal","sort":null},"y":{"datum":232.4,"type":"quantitative"},"text":{"field":"label","type":"nominal"}}},
    {"data":{"name":"chg"},"transform":[{"filter":"datum.metric==='avg' && datum.dir==='down'"}],"mark":{"type":"text","fontSize":5.5,"fontWeight":"bold","color":"#33cc33"},
     "encoding":{"x":{"field":"store","type":"nominal","sort":null},"y":{"datum":225.8,"type":"quantitative"},"text":{"field":"label","type":"nominal"}}}
   ]}
 ]}
]
}
